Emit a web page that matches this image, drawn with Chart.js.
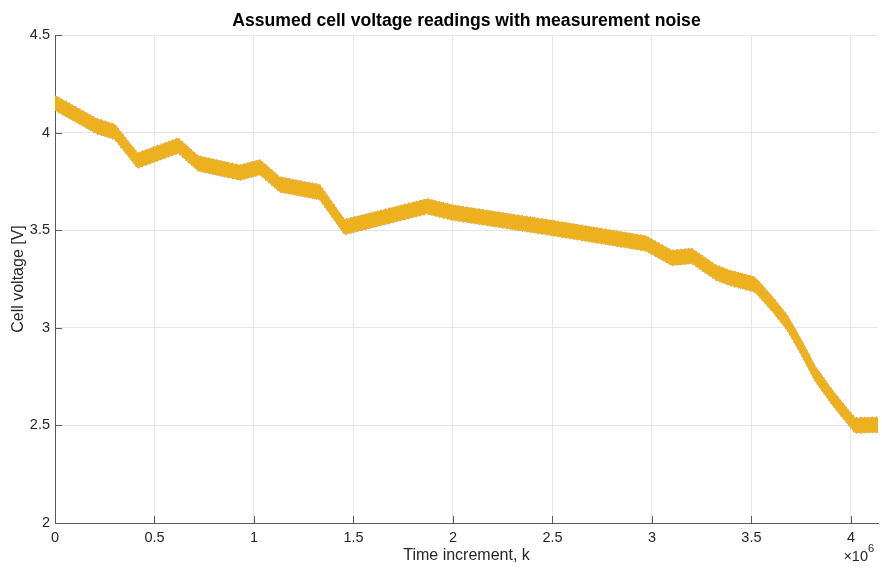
<!DOCTYPE html>
<html>
<head>
<meta charset="utf-8">
<script src="https://cdn.jsdelivr.net/npm/chart.js@4.4.1/dist/chart.umd.min.js"></script>
<style>
  html, body { margin: 0; padding: 0; background: #ffffff; }
  #wrap { width: 882px; height: 569px; position: relative; }
</style>
</head>
<body>
<div id="wrap"><canvas id="c" width="882" height="569"></canvas></div>
<script>
// Sample index k and the underlying cell voltage [V]
const timeSteps = [0, 210000, 300000, 415000, 620000, 720000, 930000, 1030000, 1130000, 1330000,
  1455000, 1870000, 2000000, 2500000, 2970000, 3100000, 3200000, 3320000, 3390000, 3510000,
  3530000, 3610000, 3680000, 3740000, 3820000, 3910000, 4020000, 4136000];
const cellVoltage = [4.152, 4.033, 4.004, 3.857, 3.933, 3.842, 3.795, 3.822, 3.734, 3.695,
  3.516, 3.622, 3.590, 3.511, 3.432, 3.358, 3.368, 3.284, 3.256, 3.224,
  3.208, 3.116, 3.026, 2.920, 2.766, 2.638, 2.500, 2.503];
// Peak measurement noise on the readings [V]
const noiseAmplitude = 0.037;

const xTickValues = [0, 500000, 1000000, 1500000, 2000000, 2500000, 3000000, 3500000, 4000000];
const xTickLabels = ['0', '0.5', '1', '1.5', '2', '2.5', '3', '3.5', '4'];
const yTickValues = [2, 2.5, 3, 3.5, 4, 4.5];
const yTickLabels = ['2', '2.5', '3', '3.5', '4', '4.5'];
const xMax = 4136000;

const titleText = 'Assumed cell voltage readings with measurement noise';
const xLabelText = 'Time increment, k';
const yLabelText = 'Cell voltage [V]';

const ORANGE = '#EDB120';
const BLUE = 'rgba(0,114,189,0.55)';
const RED = 'rgba(217,83,25,0.45)';

const band = (offset) => timeSteps.map((k, i) => ({ x: k, y: cellVoltage[i] + offset }));

const FONT = '"Liberation Sans", Arial, Helvetica, sans-serif';

// Text, inward tick marks and the x10^6 exponent
const decor = {
  id: 'decor',
  afterDraw(chart) {
    const { ctx, chartArea: a, scales: { x, y } } = chart;
    ctx.save();
    ctx.strokeStyle = '#5a5a5a';
    ctx.lineWidth = 1;
    x.ticks.forEach(t => {
      const px = Math.round(x.getPixelForValue(t.value)) + 0.5;
      ctx.beginPath(); ctx.moveTo(px, a.bottom); ctx.lineTo(px, a.bottom - 7); ctx.stroke();
    });
    y.ticks.forEach(t => {
      const py = Math.round(y.getPixelForValue(t.value)) + 0.5;
      ctx.beginPath(); ctx.moveTo(a.left, py); ctx.lineTo(a.left + 7, py); ctx.stroke();
    });

    ctx.fillStyle = '#000000';
    ctx.font = 'bold 17.6px ' + FONT;
    ctx.textAlign = 'center';
    ctx.textBaseline = 'middle';
    ctx.fillText(titleText, (a.left + a.right) / 2, 21);

    ctx.fillStyle = '#262626';
    ctx.font = '16px ' + FONT;
    ctx.fillText(xLabelText, (a.left + a.right) / 2, 556);

    ctx.save();
    ctx.translate(19, (a.top + a.bottom) / 2);
    ctx.rotate(-Math.PI / 2);
    ctx.fillText(yLabelText, 0, 0);
    ctx.restore();

    ctx.font = '14.5px ' + FONT;
    ctx.textAlign = 'right';
    ctx.fillText('\u00d710', 868, 557);
    ctx.font = '11px ' + FONT;
    ctx.textAlign = 'left';
    ctx.fillText('6', 868, 549);
    ctx.restore();
  }
};

new Chart(document.getElementById('c'), {
  type: 'line',
  data: {
    datasets: [
      { data: band(noiseAmplitude), borderColor: ORANGE, backgroundColor: ORANGE, borderWidth: 1, fill: '+1', pointRadius: 0, tension: 0 },
      { data: band(-noiseAmplitude), borderColor: ORANGE, borderWidth: 1, fill: false, pointRadius: 0, tension: 0 },
      { data: band(noiseAmplitude + 0.003), borderColor: BLUE, borderWidth: 1.2, borderDash: [1, 3], fill: false, pointRadius: 0 },
      { data: band(-noiseAmplitude - 0.003), borderColor: BLUE, borderWidth: 1.2, borderDash: [1, 3], fill: false, pointRadius: 0 },
      { data: band(noiseAmplitude + 0.002), borderColor: RED, borderWidth: 1, borderDash: [1, 4], borderDashOffset: 2, fill: false, pointRadius: 0 },
      { data: band(-noiseAmplitude - 0.002), borderColor: RED, borderWidth: 1, borderDash: [1, 4], borderDashOffset: 2, fill: false, pointRadius: 0 }
    ]
  },
  options: {
    responsive: false,
    devicePixelRatio: 1,
    animation: false,
    layout: { padding: { left: 0, right: 4, top: 35, bottom: 0 } },
    plugins: { legend: { display: false }, tooltip: { enabled: false }, title: { display: false } },
    scales: {
      x: {
        type: 'linear', min: 0, max: xMax, bounds: 'data',
        afterFit(s) { s.height = 46; },
        afterBuildTicks(s) { s.ticks = xTickValues.map(v => ({ value: v })); },
        ticks: {
          maxRotation: 0, autoSkip: false,
          padding: 6, color: '#262626', font: { family: FONT, size: 14.5 },
          callback: (v) => xTickLabels[xTickValues.indexOf(v)]
        },
        grid: { color: '#e6e6e6', drawTicks: false },
        border: { color: '#5a5a5a', width: 1 }
      },
      y: {
        type: 'linear', min: 2, max: 4.5, bounds: 'data',
        afterFit(s) { s.width = 55; },
        afterBuildTicks(s) { s.ticks = yTickValues.map(v => ({ value: v })); },
        ticks: {
          padding: 5, color: '#262626', font: { family: FONT, size: 14.5 },
          callback: (v) => yTickLabels[yTickValues.indexOf(v)]
        },
        grid: { color: '#e6e6e6', drawTicks: false },
        border: { color: '#5a5a5a', width: 1 }
      }
    }
  },
  plugins: [decor]
});
</script>
</body>
</html>
